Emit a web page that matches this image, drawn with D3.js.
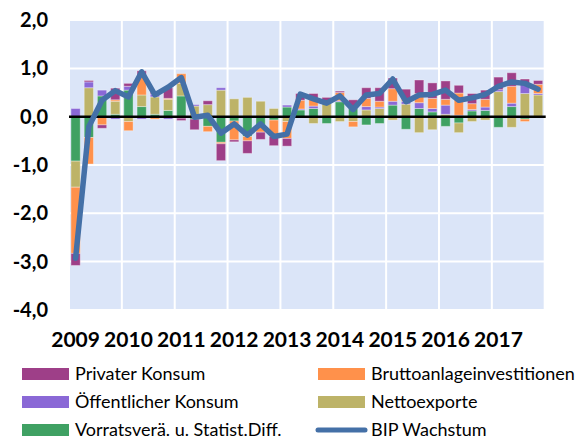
<!DOCTYPE html>
<html>
<head>
<meta charset="utf-8">
<script src="https://cdn.jsdelivr.net/npm/d3@7"></script>
<style>
    body { margin: 0; background: #fff; }
    #chart-area { width: 577px; height: 439px; }
    text { font-family: Lato, "DejaVu Sans", sans-serif; }
</style>
</head>
<body>
<div id="chart-area"></div>
<script>

// quarters 2009 Q1 .. 2017 Q4
let years = ["2009", "2010", "2011", "2012", "2013", "2014", "2015", "2016", "2017"];
let quarters = years.flatMap(y => ["Q1", "Q2", "Q3", "Q4"].map(q => y + " " + q));

// growth contributions (percentage points)
let vorrat = [-0.92, -0.43, 0.43, 0.05, 0.55, 0.21, 0.05, 0.13, 0.43,
    -0.05, -0.20, -0.53, -0.09, -0.41, -0.20, -0.07, 0.20, 0.14,
    0.17, -0.14, 0.31, 0.17, -0.17, -0.14, 0.24, -0.26, 0.17,
    0.10, -0.20, -0.13, 0.12, 0.13, -0.22, 0.21, -0.05, 0.00];
let netto = [-0.54, 0.60, 0.00, 0.27, -0.10, 0.24, 0.36, 0.23, 0.26,
    0.22, 0.25, 0.55, 0.37, 0.40, 0.32, 0.17, -0.10, 0.00,
    -0.14, 0.31, -0.10, -0.10, 0.14, 0.17, -0.07, 0.26, -0.33,
    -0.27, 0.05, -0.20, -0.10, -0.07, 0.52, -0.22, 0.48, 0.45];
let oeffentlich = [0.17, 0.12, 0.12, -0.05, 0.08, -0.05, 0.06, -0.05, -0.03,
    0.03, 0.00, 0.05, 0.00, 0.00, 0.00, 0.00, 0.04, 0.02,
    0.05, 0.00, 0.02, 0.00, 0.07, 0.03, 0.08, 0.06, 0.12,
    0.07, 0.19, 0.03, 0.03, 0.07, 0.04, 0.07, 0.20, 0.03];
let brutto = [-1.37, -0.55, -0.17, 0.03, -0.19, 0.38, -0.05, 0.02, 0.20,
    0.00, -0.11, -0.03, -0.39, -0.09, -0.12, -0.34, -0.35, 0.18,
    0.14, 0.00, 0.17, -0.11, 0.17, 0.12, 0.26, 0.05, 0.19,
    0.21, 0.12, 0.46, 0.12, 0.16, 0.00, 0.35, -0.05, 0.19];
let privat = [-0.25, 0.03, -0.07, 0.24, 0.06, 0.12, 0.05, 0.22, -0.05,
    -0.22, 0.08, -0.35, -0.04, -0.26, -0.15, -0.19, -0.16, 0.14,
    0.12, 0.09, 0.03, 0.18, 0.22, 0.28, 0.22, 0.20, 0.28,
    0.32, 0.38, 0.16, 0.21, 0.19, 0.26, 0.28, 0.10, 0.08];
let bipWachstum = [-2.93, -0.21, 0.34, 0.54, 0.41, 0.93, 0.45, 0.61, 0.81,
    -0.01, 0.03, -0.34, -0.15, -0.38, -0.15, -0.41, -0.36, 0.47,
    0.37, 0.28, 0.43, 0.15, 0.45, 0.48, 0.78, 0.31, 0.45,
    0.46, 0.55, 0.34, 0.39, 0.46, 0.63, 0.72, 0.69, 0.57];

// stacking order from the zero line outwards
let seriesKeys = ["vorrat", "netto", "oeffentlich", "brutto", "privat"];
let seriesNames = {
    privat: "Privater Konsum",
    brutto: "Bruttoanlageinvestitionen",
    oeffentlich: "Öffentlicher Konsum",
    netto: "Nettoexporte",
    vorrat: "Vorratsverä. u. Statist.Diff."
};
let seriesColors = {
    privat: "#9e3f88",
    brutto: "#ff914b",
    oeffentlich: "#8a68d6",
    netto: "#bdb368",
    vorrat: "#3fa163"
};
let lineColor = "#4470a7";
let yTicks = [2, 1, 0, -1, -2, -3, -4];


class ContributionVis {

    constructor(parentElement) {
        this.parentElement = parentElement;
        this.initVis();
    }

    initVis() {
        let vis = this;

        vis.width = 577;
        vis.height = 439;
        vis.plot = {left: 69, right: 544.7, top: 20.1, bottom: 309.9};

        vis.svg = d3.select("#" + vis.parentElement).append("svg")
            .attr("width", vis.width)
            .attr("height", vis.height);

        vis.x = d3.scaleBand()
            .domain(quarters)
            .range([vis.plot.left, vis.plot.right])
            .paddingInner(0.3)
            .paddingOuter(0.15);

        vis.xYear = d3.scaleLinear()
            .domain([2009, 2018])
            .range([vis.plot.left, vis.plot.right]);

        vis.y = d3.scaleLinear()
            .domain([-4, 2])
            .range([vis.plot.bottom, vis.plot.top]);

        vis.wrangleData();
    }

    wrangleData() {
        let vis = this;

        vis.rows = quarters.map((q, i) => ({
            quarter: q,
            vorrat: vorrat[i],
            netto: netto[i],
            oeffentlich: oeffentlich[i],
            brutto: brutto[i],
            privat: privat[i],
            bip: bipWachstum[i]
        }));

        vis.stacked = d3.stack()
            .keys(seriesKeys)
            .offset(d3.stackOffsetDiverging)(vis.rows);

        vis.updateVis();
    }

    updateVis() {
        let vis = this;

        // plot background
        vis.svg.append("rect")
            .attr("x", vis.plot.left)
            .attr("y", vis.plot.top)
            .attr("width", vis.plot.right - vis.plot.left)
            .attr("height", vis.plot.bottom - vis.plot.top)
            .attr("fill", "#dbe5f8");

        // grid
        vis.svg.append("g").selectAll("line")
            .data(yTicks)
            .join("line")
            .attr("x1", vis.plot.left)
            .attr("x2", vis.plot.right)
            .attr("y1", d => vis.y(d))
            .attr("y2", d => vis.y(d))
            .attr("stroke", "#fff")
            .attr("stroke-width", 2);

        vis.svg.append("g").selectAll("line")
            .data(d3.range(2009, 2019))
            .join("line")
            .attr("x1", d => vis.xYear(d))
            .attr("x2", d => vis.xYear(d))
            .attr("y1", vis.plot.top)
            .attr("y2", vis.plot.bottom)
            .attr("stroke", "#fff")
            .attr("stroke-width", 2);

        // stacked bars
        vis.svg.append("g").selectAll("g")
            .data(vis.stacked)
            .join("g")
            .attr("fill", d => seriesColors[d.key])
            .selectAll("rect")
            .data(d => d)
            .join("rect")
            .attr("x", d => vis.x(d.data.quarter))
            .attr("width", vis.x.bandwidth())
            .attr("y", d => vis.y(Math.max(d[0], d[1])))
            .attr("height", d => Math.abs(vis.y(d[0]) - vis.y(d[1])))
            .attr("stroke", "rgba(255,255,255,0.35)")
            .attr("stroke-width", 1);

        // zero line
        vis.svg.append("line")
            .attr("x1", vis.plot.left)
            .attr("x2", vis.plot.right + 1)
            .attr("y1", vis.y(0))
            .attr("y2", vis.y(0))
            .attr("stroke", "#000")
            .attr("stroke-width", 2.5);

        // GDP growth line
        let line = d3.line()
            .x(d => vis.x(d.quarter) + vis.x.bandwidth() / 2)
            .y(d => vis.y(d.bip));

        vis.svg.append("path")
            .datum(vis.rows)
            .attr("d", line)
            .attr("fill", "none")
            .attr("stroke", lineColor)
            .attr("stroke-width", 5.5)
            .attr("stroke-linejoin", "round")
            .attr("stroke-linecap", "round");

        // y axis
        let yAxis = d3.axisLeft(vis.y)
            .tickValues(yTicks)
            .tickSize(0)
            .tickPadding(21)
            .tickFormat(d => d3.format(".1f")(d).replace(".", ",").replace("−", "-"));

        vis.svg.append("g")
            .attr("class", "y-axis axis")
            .attr("transform", "translate(" + vis.plot.left + ",0)")
            .call(yAxis)
            .call(g => g.select(".domain").remove())
            .selectAll("text")
            .attr("font-family", "Lato, sans-serif")
            .attr("font-size", 20)
            .attr("font-weight", "bold")
            .attr("fill", "#000");

        // x axis (year label at first quarter)
        let xAxis = d3.axisBottom(vis.x)
            .tickValues(quarters.filter(q => q.endsWith("Q1")))
            .tickSize(0)
            .tickPadding(22)
            .tickFormat(q => q.slice(0, 4));

        vis.svg.append("g")
            .attr("class", "x-axis axis")
            .attr("transform", "translate(0," + vis.plot.bottom + ")")
            .call(xAxis)
            .call(g => g.select(".domain").remove())
            .selectAll("text")
            .attr("font-family", "Lato, sans-serif")
            .attr("font-size", 21)
            .attr("font-weight", "bold")
            .attr("fill", "#000");

        // legend
        let legendItems = [
            {key: "privat", col: 0, row: 0},
            {key: "brutto", col: 1, row: 0},
            {key: "oeffentlich", col: 0, row: 1},
            {key: "netto", col: 1, row: 1},
            {key: "vorrat", col: 0, row: 2},
            {key: "bip", col: 1, row: 2}
        ];
        let legendX = [22, 318];
        let legendY = [374, 402, 430];

        let legend = vis.svg.append("g").selectAll("g")
            .data(legendItems)
            .join("g")
            .attr("transform", d => "translate(" + legendX[d.col] + "," + legendY[d.row] + ")");

        legend.filter(d => d.key !== "bip")
            .append("rect")
            .attr("x", 0)
            .attr("y", -6)
            .attr("width", 47)
            .attr("height", 12)
            .attr("fill", d => seriesColors[d.key]);

        legend.filter(d => d.key === "bip")
            .append("line")
            .attr("x1", 0)
            .attr("x2", 47)
            .attr("stroke", lineColor)
            .attr("stroke-width", 5)
            .attr("stroke-linecap", "round");

        legend.append("text")
            .attr("x", 53)
            .attr("dy", "0.35em")
            .attr("font-size", 18)
            .attr("fill", "#000")
            .text(d => d.key === "bip" ? "BIP Wachstum" : seriesNames[d.key]);
    }
}

new ContributionVis("chart-area");
</script>
</body>
</html>
